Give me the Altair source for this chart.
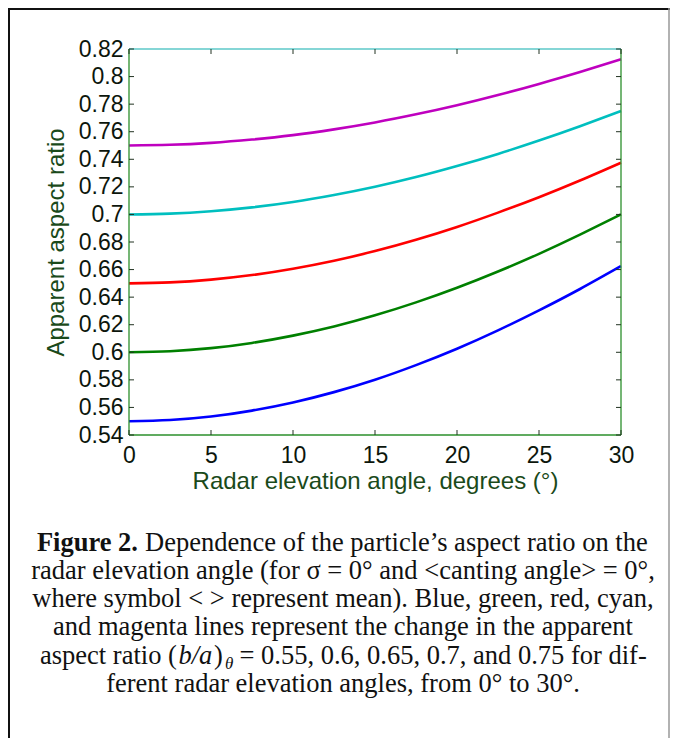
import altair as alt
import pandas as pd

# radar elevation angle (degrees) and the apparent aspect ratio
angle = [0, 2.5, 5, 7.5, 10, 12.5, 15, 17.5, 20, 22.5, 25, 27.5, 30]
blue = [0.5500, 0.5509, 0.5534, 0.5577, 0.5636, 0.5711, 0.5801, 0.5907, 0.6026, 0.6159, 0.6304, 0.6459, 0.6625]
green = [0.6000, 0.6008, 0.6030, 0.6068, 0.6121, 0.6187, 0.6268, 0.6362, 0.6468, 0.6586, 0.6714, 0.6853, 0.7000]
red = [0.6500, 0.6507, 0.6527, 0.6560, 0.6606, 0.6664, 0.6734, 0.6816, 0.6909, 0.7013, 0.7125, 0.7246, 0.7375]
cyan = [0.7000, 0.7006, 0.7023, 0.7051, 0.7090, 0.7141, 0.7201, 0.7271, 0.7351, 0.7439, 0.7536, 0.7640, 0.7750]
magenta = [0.7500, 0.7505, 0.7519, 0.7543, 0.7575, 0.7617, 0.7667, 0.7726, 0.7792, 0.7866, 0.7947, 0.8033, 0.8125]

series = ["0.55", "0.6", "0.65", "0.7", "0.75"]
colors = ["#0000ff", "#008000", "#ff0000", "#00bfbf", "#bf00bf"]

x_ticks = [0, 5, 10, 15, 20, 25, 30]
y_ticks = [0.54, 0.56, 0.58, 0.6, 0.62, 0.64, 0.66, 0.68, 0.7, 0.72, 0.74, 0.76, 0.78, 0.8, 0.82]

caption_lines = [
    "radar elevation angle (for σ = 0° and <canting angle> = 0°,",
    "where symbol < > represent mean). Blue, green, red, cyan,",
    "and magenta lines represent the change in the apparent",
    "ferent radar elevation angles, from 0° to 30°.",
]

# long table for the curves
rows = []
for name, vals in zip(series, [blue, green, red, cyan, magenta]):
    for a, v in zip(angle, vals):
        rows.append({"angle": a, "ratio": v, "curve": name})
df = pd.DataFrame(rows)

W, H = 492, 386
SPINE = "#2b8f2b"
TOPSPINE = "#5cc8c8"
LABEL = "#0c160c"
TITLE = "#1a4a1a"
SANS = "Liberation Sans"
SERIF = "Liberation Serif"

xscale = alt.Scale(domain=[0, 30], nice=False, zero=False)
yscale = alt.Scale(domain=[0.54, 0.82], nice=False, zero=False)

curves = alt.Chart(df).mark_line(strokeWidth=2.6, interpolate="natural").encode(
    x=alt.X("angle:Q", scale=xscale, axis=alt.Axis(
        values=x_ticks, title="Radar elevation angle, degrees (°)",
        grid=False, domain=False, tickSize=0, labelFlush=False,
        labelFont=SANS, labelFontSize=23, labelColor=LABEL, labelPadding=9,
        titleFont=SANS, titleFontSize=24, titleFontWeight="normal", titleColor=TITLE,
        titleX=W / 2, titleY=53, titleAlign="center", titleBaseline="alphabetic")),
    y=alt.Y("ratio:Q", scale=yscale, axis=alt.Axis(
        values=y_ticks, format=".2~f", title="Apparent aspect ratio",
        grid=False, domain=False, tickSize=0,
        labelFont=SANS, labelFontSize=23, labelColor=LABEL, labelPadding=6,
        titleFont=SANS, titleFontSize=24, titleFontWeight="normal", titleColor=TITLE,
        titleAngle=270, titleX=-66, titleY=H / 2, titleAlign="center",
        titleBaseline="alphabetic")),
    color=alt.Color("curve:N", scale=alt.Scale(domain=series, range=colors), legend=None),
)


def rule(color, width, **enc):
    return alt.Chart().mark_rule(color=color, strokeWidth=width).encode(**enc)


# spines: green box, cyan top edge
spines = [
    rule(SPINE, 1.3, x=alt.value(0), y=alt.value(0), y2=alt.value(H)),
    rule(SPINE, 1.3, x=alt.value(W), y=alt.value(0), y2=alt.value(H)),
    rule(SPINE, 1.3, y=alt.value(H), x=alt.value(0), x2=alt.value(W)),
    rule(TOPSPINE, 1.3, y=alt.value(0), x=alt.value(0), x2=alt.value(W)),
]

# inward ticks on all four sides
ytk = pd.DataFrame({"v": y_ticks})
xtk = pd.DataFrame({"v": x_ticks})
tick_y = alt.Y("v:Q", scale=yscale, axis=None)
tick_x = alt.X("v:Q", scale=xscale, axis=None)
ticks = [
    alt.Chart(ytk).mark_rule(color="#223322", strokeWidth=1).encode(
        y=tick_y, x=alt.value(0), x2=alt.value(5)),
    alt.Chart(ytk).mark_rule(color="#223322", strokeWidth=1).encode(
        y=tick_y, x=alt.value(W - 5), x2=alt.value(W)),
    alt.Chart(xtk).mark_rule(color="#223322", strokeWidth=1).encode(
        x=tick_x, y=alt.value(H - 5), y2=alt.value(H)),
    alt.Chart(xtk).mark_rule(color="#223322", strokeWidth=1).encode(
        x=tick_x, y=alt.value(0), y2=alt.value(5)),
]

# page frame around the figure
frame = [
    rule("#111111", 2, x=alt.value(-120), y=alt.value(-41), y2=alt.value(720)),
    rule("#111111", 2, y=alt.value(-40), x=alt.value(-121), x2=alt.value(545)),
    rule("#999999", 1.5, x=alt.value(540), y=alt.value(-41), y2=alt.value(720)),
]


def caption(text, x, y, align="left", size=26.5, dy=0, **style):
    return alt.Chart(pd.DataFrame({"t": [text]})).mark_text(
        align=align, baseline="alphabetic", font=SERIF, fontSize=size,
        color="#111111", dy=dy, **style
    ).encode(text="t:N", x=alt.value(x), y=alt.value(y))


base_y = 501.5
step = 28.3
cx = 214
captions = [
    caption("Figure 2.", -92.1, base_y, fontWeight="bold"),
    caption("Dependence of the particle’s aspect ratio on the", 16.1, base_y),
    caption(caption_lines[0], cx, base_y + step, align="center"),
    caption(caption_lines[1], cx, base_y + 2 * step, align="center"),
    caption(caption_lines[2], cx, base_y + 3 * step, align="center"),
    caption("aspect ratio (", -89, base_y + 4 * step),
    caption("b/a", 49.5, base_y + 4 * step, fontStyle="italic"),
    caption(")", 85, base_y + 4 * step),
    caption("θ", 96, base_y + 4 * step, size=17, dy=5, fontStyle="italic"),
    caption("= 0.55, 0.6, 0.65, 0.7, and 0.75 for dif-", 110.5, base_y + 4 * step),
    caption(caption_lines[3], cx, base_y + 5 * step, align="center"),
]

chart = alt.layer(curves, *spines, *ticks, *frame, *captions).resolve_axis(
    x="independent", y="independent"
).properties(
    width=W,
    height=H,
    autosize=alt.AutoSizeParams(type="none"),
    padding={"left": 121, "top": 41, "right": 49, "bottom": 303},
).configure_view(strokeWidth=0)

chart.save("out.html", embed_options={"renderer": "svg", "actions": False})
